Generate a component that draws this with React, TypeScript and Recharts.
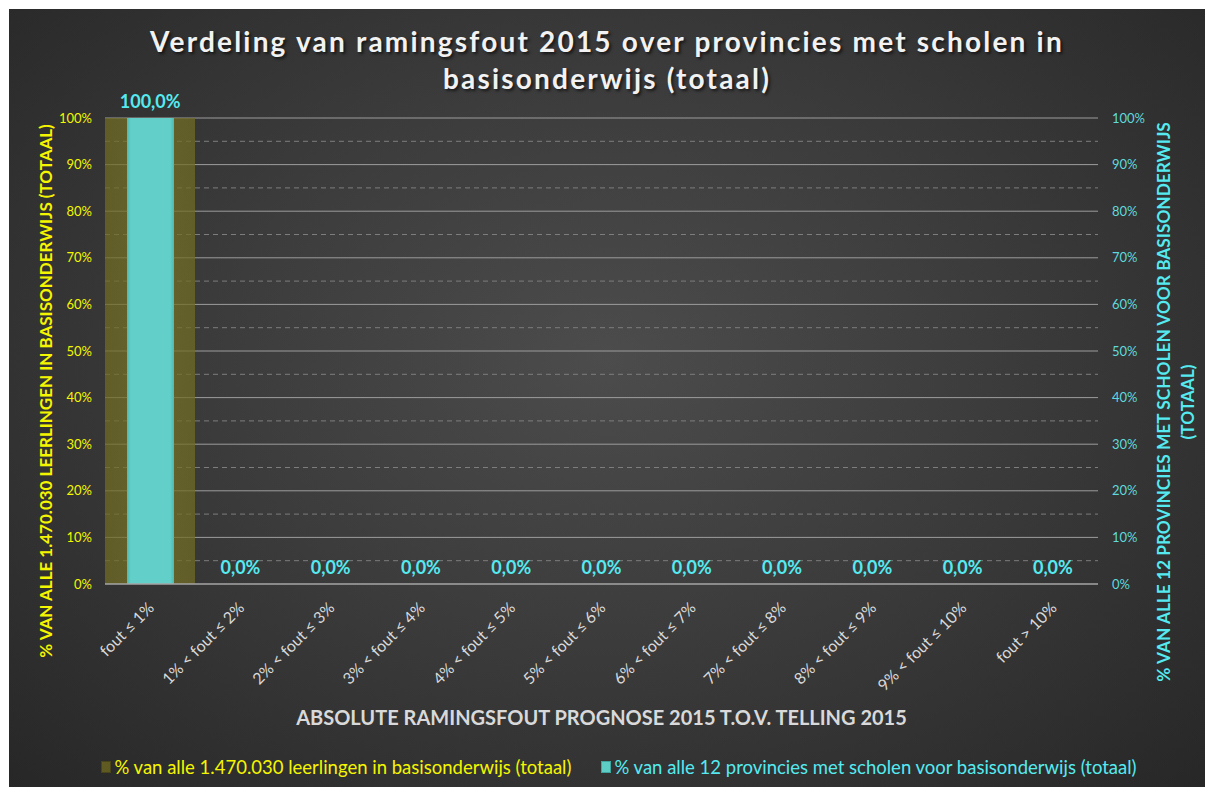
import {
  Bar,
  CartesianGrid,
  ComposedChart,
  LabelList,
  Legend,
  Line,
  XAxis,
  YAxis,
} from 'recharts'

const categorieen = [
  'fout ≤ 1%',
  '1% < fout ≤ 2%',
  '2% < fout ≤ 3%',
  '3% < fout ≤ 4%',
  '4% < fout ≤ 5%',
  '5% < fout ≤ 6%',
  '6% < fout ≤ 7%',
  '7% < fout ≤ 8%',
  '8% < fout ≤ 9%',
  '9% < fout ≤ 10%',
  'fout > 10%',
]
const leerlingen = [100, 0, 0, 0, 0, 0, 0, 0, 0, 0, 0]
const provincies = [100, 0, 0, 0, 0, 0, 0, 0, 0, 0, 0]
const yTicks = [0, 10, 20, 30, 40, 50, 60, 70, 80, 90, 100]
const hoofdLijnen = [10, 20, 30, 40, 50, 60, 70, 80, 90, 100]
const hulpLijnen = [5, 15, 25, 35, 45, 55, 65, 75, 85, 95]

const titel = ['Verdeling van ramingsfout 2015 over provincies met scholen in', 'basisonderwijs (totaal)']
const xTitel = 'ABSOLUTE RAMINGSFOUT PROGNOSE 2015 T.O.V. TELLING 2015'
const yTitelLinks = '% VAN ALLE 1.470.030 LEERLINGEN IN BASISONDERWIJS (TOTAAL)'
const yTitelRechts = ['% VAN ALLE 12 PROVINCIES MET SCHOLEN VOOR BASISONDERWIJS', '(TOTAAL)']
const legendaLinks = '% van alle 1.470.030 leerlingen in basisonderwijs (totaal)'
const legendaRechts = '% van alle 12 provincies met scholen voor basisonderwijs (totaal)'

const FONT = 'Lato, "DejaVu Sans", sans-serif'
const GEEL = '#f5f500'
const CYAAN = '#55eaf0'

const data = categorieen.map((c, i) => ({
  categorie: c,
  leerlingen: leerlingen[i],
  provincies: provincies[i],
}))

const pct = (v: number) => `${v.toFixed(1).replace('.', ',')}%`

function XTick({ x, y, payload }: any) {
  return (
    <g transform={`translate(${x + 5},${y + 25})`}>
      <text transform="rotate(-45)" textAnchor="end" fill="#d9d9d9" fontSize={16} fontFamily={FONT}>
        {payload.value}
      </text>
    </g>
  )
}

function LinksTitel({ viewBox }: any) {
  const cx = viewBox.x + 36
  const cy = viewBox.y + viewBox.height / 2 + 40
  return (
    <text
      x={cx}
      y={cy}
      transform={`rotate(-90, ${cx}, ${cy})`}
      textAnchor="middle"
      dominantBaseline="central"
      fill={GEEL}
      fontSize={17}
      fontWeight={700}
      fontFamily={FONT}
    >
      {yTitelLinks}
    </text>
  )
}

function RechtsTitel({ viewBox }: any) {
  const cx = viewBox.x + 66
  const cy = viewBox.y + viewBox.height / 2 + 51
  return (
    <text
      transform={`rotate(-90, ${cx}, ${cy})`}
      textAnchor="middle"
      fill={CYAAN}
      fontSize={17.3}
      fontWeight={700}
      fontFamily={FONT}
    >
      <tspan x={cx} y={cy} dy="0.35em">{yTitelRechts[0]}</tspan>
      <tspan x={cx} y={cy} dy="1.75em">{yTitelRechts[1]}</tspan>
    </text>
  )
}

function XTitel({ viewBox }: any) {
  return (
    <text
      x={viewBox.x + viewBox.width / 2}
      y={viewBox.y + 133}
      textAnchor="middle"
      dominantBaseline="central"
      fill="#d9d9d9"
      fontSize={20}
      fontWeight={700}
      fontFamily={FONT}
    >
      {xTitel}
    </text>
  )
}

function Legenda() {
  const item = (kleur: string, rand: string, tekstKleur: string, tekst: string) => (
    <div style={{ display: 'flex', alignItems: 'center', gap: 3 }}>
      <span style={{ width: 8, height: 10, background: kleur, border: `1px solid ${rand}` }} />
      <span style={{ color: tekstKleur, fontSize: 18.5 }}>{tekst}</span>
    </div>
  )
  return (
    <div
      style={{
        height: 40,
        display: 'flex',
        justifyContent: 'center',
        alignItems: 'center',
        gap: 30,
        paddingLeft: 24,
        fontFamily: FONT,
      }}
    >
      {item('#5e5a22', '#48451a', GEEL, legendaLinks)}
      {item('#5ecdc6', '#3fa59f', CYAAN, legendaRechts)}
    </div>
  )
}

export default function App() {
  return (
    <div
      style={{
        position: 'absolute',
        left: 9,
        top: 9,
        width: 1196,
        height: 778,
        background: 'radial-gradient(ellipse at 50% 45%, #4c4c4c 0%, #3c3c3c 45%, #272727 100%)',
        fontFamily: FONT,
      }}
    >
      <div
        style={{
          position: 'absolute',
          top: 14,
          left: 0,
          width: '100%',
          textAlign: 'center',
          color: '#f2f2f2',
          fontSize: 28,
          fontWeight: 700,
          letterSpacing: 2.2,
          lineHeight: '37px',
          textShadow: '2px 2px 3px rgba(0,0,0,0.6)',
        }}
      >
        {titel[0]}
        <br />
        {titel[1]}
      </div>
      <ComposedChart
        width={1196}
        height={778}
        data={data}
        barCategoryGap={0}
        margin={{ top: 109, right: 0, left: 0, bottom: 0 }}
        style={{ position: 'absolute', left: 0, top: 0 }}
      >
        <defs>
          <linearGradient id="olijf" x1="0" y1="0" x2="1" y2="0">
            <stop offset="0%" stopColor="#6e6a24" stopOpacity={0.75} />
            <stop offset="50%" stopColor="#7a7628" stopOpacity={0.7} />
            <stop offset="100%" stopColor="#6e6a24" stopOpacity={0.75} />
          </linearGradient>
          <linearGradient id="cyaan" x1="0" y1="0" x2="1" y2="0">
            <stop offset="0%" stopColor="#4fb9b2" />
            <stop offset="8%" stopColor="#62d0c8" />
            <stop offset="92%" stopColor="#62d0c8" />
            <stop offset="100%" stopColor="#4fb9b2" />
          </linearGradient>
        </defs>
        <CartesianGrid
          xAxisId="a"
          yAxisId="links"
          vertical={false}
          horizontalValues={hulpLijnen}
          stroke="#7d7d7d"
          strokeDasharray="5 4"
        />
        <CartesianGrid
          xAxisId="a"
          yAxisId="links"
          vertical={false}
          horizontalValues={hoofdLijnen}
          stroke="#9c9c9c"
        />
        <XAxis
          xAxisId="a"
          dataKey="categorie"
          height={163}
          interval={0}
          tickLine={false}
          tickSize={0}
          tickMargin={0}
          axisLine={{ stroke: '#a6a6a6', strokeWidth: 1.5 }}
          tick={<XTick />}
          label={<XTitel />}
        />
        <XAxis xAxisId="b" dataKey="categorie" hide />
        <YAxis
          yAxisId="links"
          width={96}
          domain={[0, 100]}
          ticks={yTicks}
          tickFormatter={(v) => `${v}%`}
          tickLine={false}
          axisLine={false}
          tickSize={0}
          tickMargin={13}
          tick={{ fill: GEEL, fontSize: 13, fontFamily: FONT }}
          label={<LinksTitel />}
        />
        <YAxis
          yAxisId="rechts"
          orientation="right"
          width={107}
          domain={[0, 100]}
          ticks={yTicks}
          tickFormatter={(v) => `${v}%`}
          tickLine={false}
          axisLine={false}
          tickSize={0}
          tickMargin={14}
          tick={{ fill: '#5fd9de', fontSize: 13, fontFamily: FONT, textAnchor: 'start' }}
          label={<RechtsTitel />}
        />
        <Legend verticalAlign="bottom" content={<Legenda />} />
        <Bar
          xAxisId="a"
          yAxisId="links"
          dataKey="leerlingen"
          name={legendaLinks}
          fill="url(#olijf)"
          isAnimationActive={false}
        />
        <Bar
          xAxisId="b"
          yAxisId="rechts"
          dataKey="provincies"
          name={legendaRechts}
          fill="url(#cyaan)"
          barSize={47}
          isAnimationActive={false}
        />
        {/* labels van de provincies-reeks, ook voor de 0-waarden */}
        <Line
          xAxisId="b"
          yAxisId="rechts"
          dataKey="provincies"
          stroke="none"
          dot={false}
          activeDot={false}
          legendType="none"
          isAnimationActive={false}
        >
          <LabelList
            dataKey="provincies"
            position="top"
            offset={10}
            formatter={(v: any) => pct(Number(v))}
            fill={CYAAN}
            fontSize={18}
            fontWeight={700}
            fontFamily={FONT}
          />
        </Line>
      </ComposedChart>
    </div>
  )
}
